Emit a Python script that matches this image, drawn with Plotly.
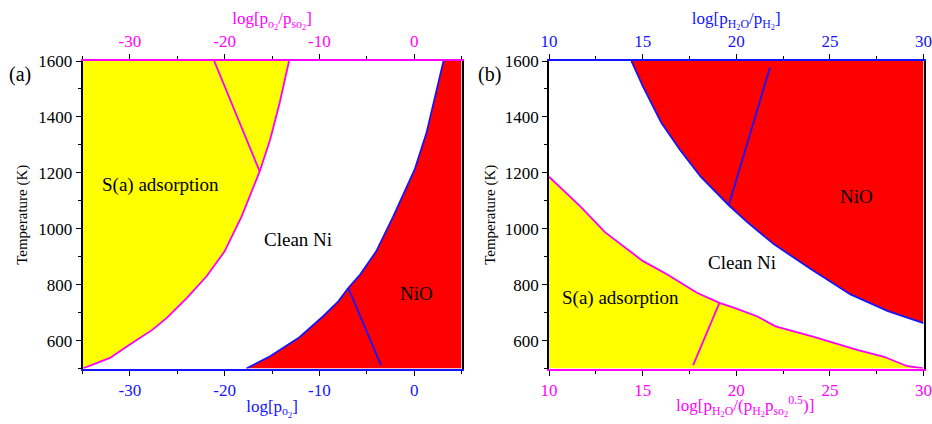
import plotly.graph_objects as go

# ---------------- data ----------------
# panel (a): x = log[pO2], T in K
a_sads_x = [-35.0, -32.1, -30.0, -27.6, -26.1, -24.0, -21.9, -20.0, -18.2, -16.3, -15.2, -14.2, -13.2]
a_sads_T = [500, 538, 586, 639, 681, 752, 830, 919, 1044, 1205, 1318, 1449, 1600]
a_sads_inner_x = [-16.3, -21.1]
a_sads_inner_T = [1205, 1600]

a_nio_x = [-17.7, -15.2, -12.1, -9.6, -8.0, -6.95, -5.7, -4.0, -2.2, 0.05, 1.3, 3.1]
a_nio_T = [500, 544, 612, 687, 740, 788, 836, 919, 1044, 1211, 1342, 1600]
a_nio_inner_x = [-6.95, -3.5]
a_nio_inner_T = [788, 512]

# panel (b): x = log[pH2O/pH2] (top) / log[pH2O/(pH2 pSO2^0.5)] (bottom)
b_nio_x = [14.4, 15.0, 16.0, 17.0, 18.1, 19.6, 20.6, 22.0, 24.0, 26.1, 28.1, 30.0]
b_nio_T = [1600, 1511, 1379, 1282, 1186, 1084, 1023, 945, 855, 765, 705, 662]
b_nio_inner_x = [19.6, 21.8]
b_nio_inner_T = [1084, 1577]

b_sads_x = [10.0, 11.7, 13.0, 15.0, 16.3, 17.9, 19.1, 19.9, 21.1, 22.1, 24.1, 26.5, 27.9, 29.1, 30.0]
b_sads_T = [1186, 1078, 987, 885, 837, 771, 735, 717, 687, 651, 614, 566, 542, 509, 500]
b_sads_inner_x = [19.1, 17.7]
b_sads_inner_T = [735, 512]

a_xrange = [-35, 5]
b_xrange = [10, 30]
T_range = [500, 1600]

a_tickvals = [-30, -20, -10, 0]
a_ticktext = ["-30", "-20", "-10", "0"]
b_tickvals = [10, 15, 20, 25, 30]
b_ticktext = ["10", "15", "20", "25", "30"]

region_labels_a = [("S(a) adsorption", -26.8, 1157), ("Clean Ni", -12.3, 961), ("NiO", 0.2, 770)]
region_labels_b = [("S(a) adsorption", 13.8, 753), ("Clean Ni", 20.3, 879), ("NiO", 26.4, 1114)]

# ---------------- styles ----------------
YEL = "#FFFF00"
RED = "#FF0000"
MAG = "#FF00FF"
BLU = "#1414FF"
FONT = "Liberation Serif"

fig = go.Figure()

def poly(x, y, color, xa, ya):
    fig.add_trace(go.Scatter(x=x, y=y, fill="toself", fillcolor=color, mode="lines",
                             line=dict(width=0, color=color), xaxis=xa, yaxis=ya,
                             showlegend=False, hoverinfo="skip"))

def line(x, y, color, xa, ya):
    fig.add_trace(go.Scatter(x=x, y=y, mode="lines", line=dict(width=1.8, color=color),
                             xaxis=xa, yaxis=ya, showlegend=False, hoverinfo="skip"))

# panel (a)
poly(a_sads_x + [a_xrange[0]], a_sads_T + [T_range[1]], YEL, "x", "y")
poly(a_nio_x + [a_xrange[1], a_xrange[1]], a_nio_T + [T_range[1], T_range[0]], RED, "x", "y")
line(a_sads_x, a_sads_T, MAG, "x", "y")
line(a_sads_inner_x, a_sads_inner_T, MAG, "x", "y")
line(a_nio_x, a_nio_T, BLU, "x", "y")
line(a_nio_inner_x, a_nio_inner_T, BLU, "x", "y")

# panel (b)
poly(b_nio_x + [b_xrange[1]], b_nio_T + [T_range[1]], RED, "x2", "y2")
poly(b_sads_x + [b_xrange[0]], b_sads_T + [T_range[0]], YEL, "x2", "y2")
line(b_nio_x, b_nio_T, BLU, "x2", "y2")
line(b_nio_inner_x, b_nio_inner_T, BLU, "x2", "y2")
line(b_sads_x, b_sads_T, MAG, "x2", "y2")
line(b_sads_inner_x, b_sads_inner_T, MAG, "x2", "y2")

W, H = 932, 424
dom_a = [82.5 / W, 461.5 / W]
dom_b = [549 / W, 923.5 / W]
dom_y = [1 - 368.5 / H, 1 - 61 / H]

def xax(rng, dom, side, color, title, tv, tt, mdtick, anchor, standoff, overlaying=None):
    d = dict(range=rng, domain=dom, side=side, anchor=anchor,
             showline=True, linecolor=color, linewidth=2,
             ticks="outside", ticklen=5, tickwidth=1.2, tickcolor="black",
             tickfont=dict(family=FONT, size=17, color=color),
             tickmode="array", tickvals=tv, ticktext=tt, ticklabeloverflow="allow",
             minor=dict(dtick=mdtick, tick0=0, ticks="outside", ticklen=3, tickcolor="black", tickwidth=1.2),
             showgrid=False, zeroline=False, automargin=False,
             title=dict(text=title, font=dict(family=FONT, size=17, color=color), standoff=standoff))
    if overlaying:
        d["overlaying"] = overlaying
    return d

def yax(dom, anchor, title, standoff):
    return dict(range=T_range, domain=dom, anchor=anchor,
                showline=True, linecolor="black", linewidth=1.5, mirror=True,
                ticks="outside", ticklen=5, tickwidth=1.2, tickcolor="black",
                tickfont=dict(family=FONT, size=17, color="black"),
                dtick=200, tick0=0,
                minor=dict(dtick=100, ticks="outside", ticklen=3, tickcolor="black", tickwidth=1.2),
                showgrid=False, zeroline=False, automargin=False,
                title=dict(text=title, font=dict(family=FONT, size=15, color="black"), standoff=standoff))

fig.update_layout(
    width=W, height=H, template="none",
    margin=dict(l=0, r=0, t=0, b=0),
    paper_bgcolor="white", plot_bgcolor="white",
    font=dict(family=FONT, size=16, color="black"),
    xaxis=xax(a_xrange, dom_a, "bottom", BLU, "log[p<sub>o<sub>2</sub></sub>]",
              a_tickvals, a_ticktext, 5, "y", 1),
    xaxis3=xax(a_xrange, dom_a, "top", MAG,
               "log[p<sub>o<sub>2</sub></sub>/p<sub>so<sub>2</sub></sub>]",
               a_tickvals, a_ticktext, 5, "y", 3, overlaying="x"),
    yaxis=yax(dom_y, "x", "Temperature (K)", 7),
    xaxis2=xax(b_xrange, dom_b, "bottom", MAG, "",
               b_tickvals, b_ticktext, 2.5, "y2", 0),
    xaxis4=xax(b_xrange, dom_b, "top", BLU,
               "log[p<sub>H<sub>2</sub>O</sub>/p<sub>H<sub>2</sub></sub>]",
               b_tickvals, b_ticktext, 2.5, "y2", 3, overlaying="x2"),
    yaxis2=yax(dom_y, "x2", "Temperature (K)", 6),
)

# dummy traces so overlaying top axes are drawn
fig.add_trace(go.Scatter(x=[None], y=[None], xaxis="x3", yaxis="y", showlegend=False))
fig.add_trace(go.Scatter(x=[None], y=[None], xaxis="x4", yaxis="y2", showlegend=False))

anns = []
for t, x, y in region_labels_a:
    anns.append(dict(text=t, x=x, y=y, xref="x", yref="y", showarrow=False,
                     font=dict(family=FONT, size=19, color="black")))
for t, x, y in region_labels_b:
    anns.append(dict(text=t, x=x, y=y, xref="x2", yref="y2", showarrow=False,
                     font=dict(family=FONT, size=19, color="black")))
anns.append(dict(text="log[p<sub>H<sub>2</sub>O</sub>/(p<sub>H<sub>2</sub></sub>p<sub>so<sub>2</sub></sub><sup>0.5</sup>)]",
                 x=745 / W, y=1 - 406 / H, xref="paper", yref="paper",
                 showarrow=False, xanchor="center", yanchor="middle",
                 font=dict(family=FONT, size=17, color=MAG)))
anns.append(dict(text="(a)", x=20 / W, y=1 - 61 / H, xref="paper", yref="paper", showarrow=False,
                 xanchor="center", font=dict(family=FONT, size=20, color="black")))
anns.append(dict(text="(b)", x=490 / W, y=1 - 61 / H, xref="paper", yref="paper", showarrow=False,
                 xanchor="center", font=dict(family=FONT, size=20, color="black")))
fig.update_layout(annotations=anns)

fig.write_html("out.html", config={"displayModeBar": False},
               post_script="document.body.style.margin='0';document.body.style.overflow='hidden';")
